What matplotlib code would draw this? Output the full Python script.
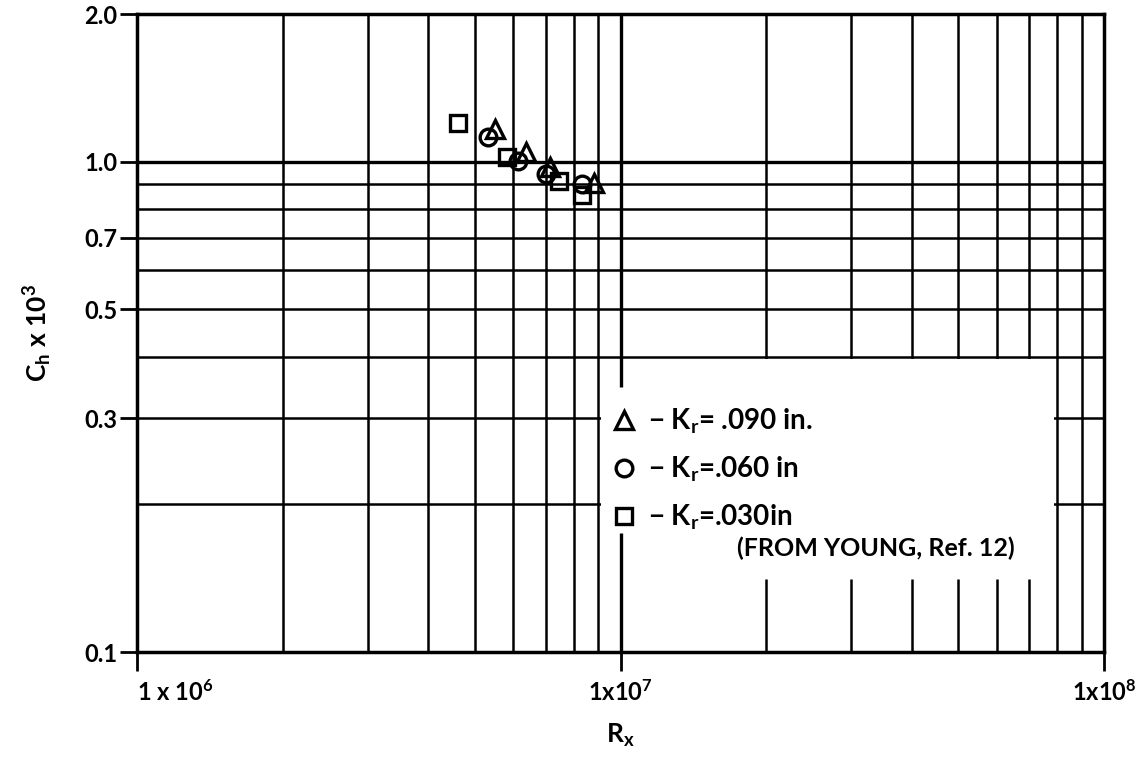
import matplotlib
matplotlib.use("Agg")
import matplotlib.pyplot as plt
from matplotlib.patches import Rectangle
from matplotlib.lines import Line2D

plt.rcParams['font.family'] = ['Lato', 'DejaVu Sans']
plt.rcParams['font.weight'] = 'bold'
plt.rcParams['axes.labelweight'] = 'bold'
plt.rcParams['mathtext.fontset'] = 'custom'
plt.rcParams['mathtext.rm'] = 'Lato:bold'
plt.rcParams['mathtext.it'] = 'Lato:bold'
plt.rcParams['mathtext.bf'] = 'Lato:bold'
plt.rcParams['mathtext.default'] = 'bf'

# data (Rx, Ch x 10^3)
tri_x = [5.50e6, 6.38e6, 7.15e6, 8.82e6]
tri_y = [1.166, 1.045, 0.974, 0.905]
circ_x = [5.33e6, 6.15e6, 7.01e6, 8.32e6]
circ_y = [1.121, 1.005, 0.944, 0.901]
sq_x = [4.62e6, 5.82e6, 7.47e6, 8.32e6]
sq_y = [1.199, 1.020, 0.911, 0.853]

labels = ['$-$ K$_r$= .090 in.', '$-$ K$_r$=.060 in', '$-$ K$_r$=.030in']
note = '(FROM YOUNG, Ref. 12)'

xticks = [1e6, 1e7, 1e8]
xticklabels = ['1 x 10$^6$', '1x10$^7$', '1x10$^8$']
yticks = [0.1, 0.3, 0.5, 0.7, 1.0, 2.0]
yticklabels = ['0.1', '0.3', '0.5', '0.7', '1.0', '2.0']
xgrid = [2e6, 3e6, 4e6, 5e6, 6e6, 7e6, 8e6, 9e6, 1e7,
         2e7, 3e7, 4e7, 5e7, 6e7, 7e7, 8e7, 9e7]
ygrid = [0.2, 0.3, 0.4, 0.5, 0.6, 0.7, 0.8, 0.9, 1.0]

fig = plt.figure(figsize=(11.43, 7.57), dpi=100)
ax = fig.add_axes([0.1199, 0.1387, 0.846, 0.8428])
ax.set_xscale('log')
ax.set_yscale('log')
ax.set_xlim(1e6, 1e8)
ax.set_ylim(0.1, 2.0)

# grid lines
for g in xgrid:
    ax.vlines(g, 0.1, 2.0, color='black', lw=2.4 if g == 1e7 else 1.8, zorder=1)
for g in ygrid:
    ax.hlines(g, 1e6, 1e8, color='black', lw=2.4 if g == 1.0 else 1.8, zorder=1)

# blank area behind the key
ax.add_patch(Rectangle((9.12e6, 0.1), 7.88e7 - 9.12e6, 0.396 - 0.1,
                       facecolor='white', edgecolor='none', zorder=1.3))
ax.vlines(1e7, 0.347, 0.4, color='black', lw=2.4, zorder=1.5)
ax.vlines(1e7, 0.1, 0.175, color='black', lw=2.4, zorder=1.5)
ax.vlines([2e7, 3e7, 4e7, 5e7, 6e7, 7e7], 0.1, 0.141, color='black', lw=1.8, zorder=1.5)

mk = dict(linestyle='none', markerfacecolor='none', markeredgecolor='black',
          markeredgewidth=2.4, zorder=3)
ax.plot(sq_x, sq_y, marker='s', markersize=12, **mk)
ax.plot(circ_x, circ_y, marker='o', markersize=12, **mk)
ax.plot(tri_x, tri_y, marker='^', markersize=13, **mk)

handles = [Line2D([], [], marker='^', markersize=13, **mk),
           Line2D([], [], marker='o', markersize=12, **mk),
           Line2D([], [], marker='s', markersize=12, **mk)]
leg = ax.legend(handles, labels, loc='upper left', bbox_to_anchor=(0.48, 0.402),
                frameon=False, fontsize=20, handlelength=0.85, handletextpad=0.42,
                labelspacing=0.66, borderaxespad=0)
ax.text(0.62, 0.163, note, transform=ax.transAxes, fontsize=18,
        ha='left', va='center', zorder=4)

ax.set_xticks(xticks)
ax.set_xticklabels(xticklabels, fontsize=17)
ax.xaxis.set_minor_locator(matplotlib.ticker.NullLocator())
ax.set_yticks(yticks)
ax.set_yticklabels(yticklabels, fontsize=17)
ax.yaxis.set_minor_locator(matplotlib.ticker.NullLocator())
ax.tick_params(axis='x', length=14, width=2, direction='out', pad=6)
ax.tick_params(axis='y', length=12, width=2, direction='out', pad=2)
xl = ax.get_xticklabels()
xl[0].set_horizontalalignment('left')

for s in ax.spines.values():
    s.set_linewidth(2.5)

ax.set_xlabel('R$_x$', fontsize=19, labelpad=12)
ax.set_ylabel('C$_h$ x 10$^3$', fontsize=19, labelpad=22)

fig.savefig('out.png', dpi=100)
